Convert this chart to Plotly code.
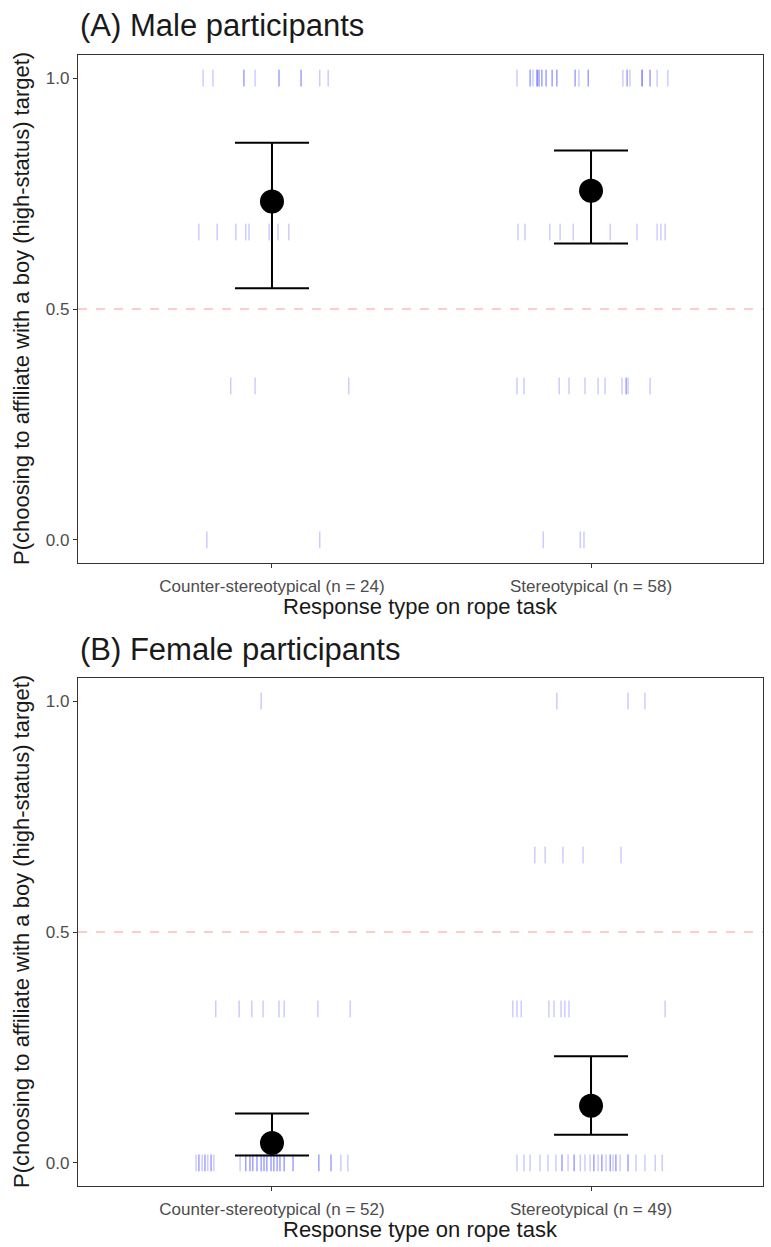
import plotly.graph_objects as go

categories_A = ["Counter-stereotypical (n = 24)", "Stereotypical (n = 58)"]
categories_B = ["Counter-stereotypical (n = 52)", "Stereotypical (n = 49)"]
y_ticks = [0, 0.5, 1]
y_tick_labels = ["0.0", "0.5", "1.0"]
chance_level = 0.5

# Jitter offsets (data units, relative to category position) for each response level
A_counter = {
    1.0: [-0.216, -0.185, -0.088, -0.088, -0.053, 0.022, 0.022, 0.091, 0.091, 0.150, 0.176],
    2/3: [-0.229, -0.172, -0.113, -0.082, -0.072, -0.009, 0.019, 0.053],
    1/3: [-0.129, -0.053, 0.241],
    0.0: [-0.204, 0.150],
}
A_stereo = {
    1.0: [-0.232, -0.191, -0.191, -0.182, -0.169, -0.169, -0.169, -0.163, -0.163, -0.154, -0.154,
          -0.141, -0.141, -0.122, -0.122, -0.107, -0.107, -0.050, -0.050, -0.038, -0.009, -0.009,
          0.100, 0.113, 0.113, 0.122, 0.160, 0.160, 0.160, 0.185, 0.185, 0.207, 0.241],
    2/3: [-0.229, -0.207, -0.129, -0.097, -0.056, 0.060, 0.144, 0.207, 0.219, 0.232],
    1/3: [-0.232, -0.210, -0.100, -0.069, -0.019, 0.022, 0.044, 0.097, 0.110, 0.110, 0.116, 0.185],
    0.0: [-0.150, -0.034, -0.022],
}
B_counter = {
    1.0: [-0.034],
    2/3: [],
    1/3: [-0.176, -0.103, -0.063, -0.028, 0.022, 0.038, 0.144, 0.245],
    0.0: [-0.238, -0.229, -0.219, -0.210, -0.201, -0.191, -0.182, -0.100, -0.082, -0.069, -0.060,
          -0.047, -0.034, -0.025, -0.016, -0.003, 0.006, 0.016, 0.025, 0.038, 0.066, 0.147, 0.185,
          0.216, 0.238,
          -0.229, -0.210, -0.191, -0.082, -0.069, -0.060, -0.047, -0.034, -0.025, -0.016, -0.003,
          0.006, 0.016, 0.025, 0.038, 0.066, 0.147, 0.185],
}
B_stereo = {
    1.0: [-0.107, 0.116, 0.169],
    2/3: [-0.176, -0.144, -0.088, -0.025, 0.094],
    1/3: [-0.245, -0.232, -0.219, -0.132, -0.116, -0.094, -0.082, -0.069, 0.232],
    0.0: [-0.232, -0.210, -0.191, -0.160, -0.135, -0.110, -0.091, -0.072, -0.053, -0.034, -0.019,
          -0.003, 0.009, 0.022, 0.034, 0.047, 0.060, 0.069, 0.078, 0.091, 0.116, 0.141, 0.169,
          0.201, 0.223,
          -0.091, -0.053, 0.009, 0.034, 0.060, 0.078, 0.116],
}

# Estimated means and 95% CIs
A_mean = [0.733, 0.756]
A_lower = [0.545, 0.642]
A_upper = [0.860, 0.843]
B_mean = [0.043, 0.124]
B_lower = [0.016, 0.061]
B_upper = [0.107, 0.231]

fig = go.Figure()

def add_panel(groups, means, lows, ups, xa, ya):
    xs, ys = [], []
    for ci, g in enumerate(groups):
        for level, offs in g.items():
            for o in offs:
                xs.append(ci + 1 + o)
                ys.append(level)
    fig.add_trace(go.Scatter(
        x=xs, y=ys, mode="markers", xaxis=xa, yaxis=ya, showlegend=False, hoverinfo="skip",
        marker=dict(symbol="line-ns", size=12, line=dict(color="rgba(0,0,255,0.3)", width=1)),
    ))
    fig.add_trace(go.Scatter(
        x=[1, 2], y=means, mode="markers", xaxis=xa, yaxis=ya, showlegend=False,
        marker=dict(size=24, color="black"),
        error_y=dict(type="data", symmetric=False,
                     array=[u - m for u, m in zip(ups, means)],
                     arrayminus=[m - l for m, l in zip(means, lows)],
                     color="black", thickness=2, width=37),
    ))

add_panel([A_counter, A_stereo], A_mean, A_lower, A_upper, "x", "y")
add_panel([B_counter, B_stereo], B_mean, B_lower, B_upper, "x2", "y2")

H = 1247
font_main = "Liberation Sans, Arial, sans-serif"
axis_common = dict(showgrid=False, zeroline=False, showline=True, mirror=True,
                   linecolor="#333333", linewidth=1.2, ticks="outside", ticklen=4,
                   tickcolor="#333333", tickwidth=1.2,
                   tickfont=dict(family=font_main, size=17, color="#4d4d4d"))

fig.update_layout(
    width=771, height=H,
    margin=dict(l=78, r=8, t=0, b=0),
    paper_bgcolor="white", plot_bgcolor="white",
    xaxis=dict(axis_common, range=[0.392, 2.539], tickvals=[1, 2], ticktext=categories_A,
               anchor="y", domain=[0, 1], ticklabelstandoff=3),
    yaxis=dict(axis_common, range=[-0.05, 1.05], tickvals=y_ticks, ticktext=y_tick_labels,
               anchor="x", domain=[1 - 563 / H, 1 - 55 / H]),
    xaxis2=dict(axis_common, range=[0.392, 2.539], tickvals=[1, 2], ticktext=categories_B,
                anchor="y2", domain=[0, 1], ticklabelstandoff=3),
    yaxis2=dict(axis_common, range=[-0.05, 1.05], tickvals=y_ticks, ticktext=y_tick_labels,
                anchor="x2", domain=[1 - 1186 / H, 1 - 678 / H]),
    shapes=[
        dict(type="line", xref="x domain", yref="y", x0=0, x1=1, y0=chance_level, y1=chance_level,
             line=dict(color="rgba(255,0,0,0.4)", width=1.2, dash="dash"), layer="below"),
        dict(type="line", xref="x2 domain", yref="y2", x0=0, x1=1, y0=chance_level, y1=chance_level,
             line=dict(color="rgba(255,0,0,0.4)", width=1.2, dash="dash"), layer="below"),
    ],
)

ytitle = "P(choosing to affiliate with a boy (high-status) target)"
xtitle = "Response type on rope task"
ann = [
    dict(text="(A) Male participants", x=0, y=1 - 26 / H, xanchor="left", yanchor="middle",
         font=dict(size=31, color="#1a1a1a", family=font_main)),
    dict(text="(B) Female participants", x=0, y=1 - 649 / H, xanchor="left", yanchor="middle",
         font=dict(size=31, color="#1a1a1a", family=font_main)),
    dict(text=xtitle, x=0.5, y=1 - 606 / H, xanchor="center", yanchor="middle",
         font=dict(size=22, color="#1a1a1a", family=font_main)),
    dict(text=xtitle, x=0.5, y=1 - 1229 / H, xanchor="center", yanchor="middle",
         font=dict(size=22, color="#1a1a1a", family=font_main)),
    dict(text=ytitle, x=(21 - 78) / 685, y=1 - 309 / H, xanchor="center", yanchor="middle",
         textangle=-90, font=dict(size=22, color="#1a1a1a", family=font_main)),
    dict(text=ytitle, x=(21 - 78) / 685, y=1 - 932 / H, xanchor="center", yanchor="middle",
         textangle=-90, font=dict(size=22, color="#1a1a1a", family=font_main)),
]
for a in ann:
    a.update(xref="paper", yref="paper", showarrow=False)
fig.update_layout(annotations=ann)

fig.write_html("out.html")
